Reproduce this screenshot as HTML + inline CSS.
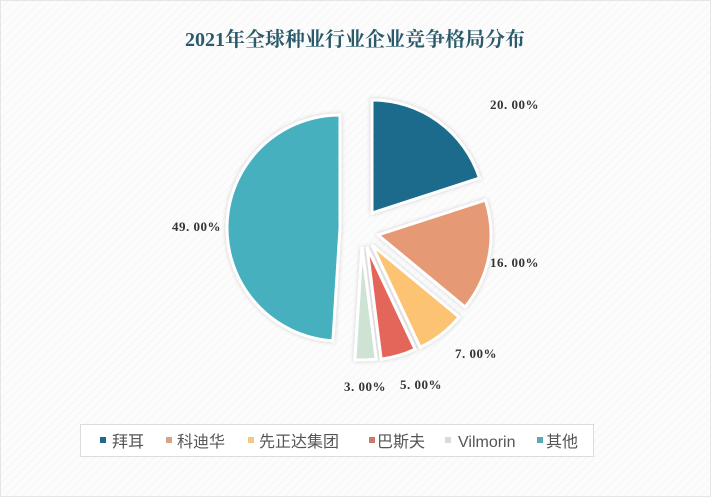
<!DOCTYPE html>
<html><head><meta charset="utf-8">
<style>
html,body{margin:0;padding:0;}
body{width:711px;height:497px;overflow:hidden;background:#fbfbfb;}
svg{display:block;}
</style></head>
<body>
<svg id="s" width="711" height="497" xmlns="http://www.w3.org/2000/svg">
<defs>
<pattern id="p" width="6" height="6" patternUnits="userSpaceOnUse" patternTransform="rotate(45)">
<rect width="6" height="6" fill="#fcfcfc"/><line x1="0" y1="0" x2="0" y2="6" stroke="#f1f1f1" stroke-width="1"/>
</pattern>
<filter id="sh" x="-20%" y="-20%" width="140%" height="140%"><feDropShadow dx="0" dy="0" stdDeviation="2" flood-color="#000" flood-opacity="0.18"/></filter>
</defs>
<rect width="711" height="497" fill="url(#p)"/>
<rect x="0.5" y="0.5" width="710" height="496" fill="none" stroke="#e6e6e6"/>
<text x="355" y="46" text-anchor="middle" font-family="Liberation Serif, 'Noto Serif CJK SC', serif" font-weight="bold" font-size="20" fill="#2b5a6b">2021年全球种业行业企业竞争格局分布</text>
<g id="pie" filter="url(#sh)"></g>
<g font-family="Liberation Serif, 'Liberation Mono', serif" font-weight="bold" font-size="13" fill="#333" letter-spacing="0.5">
<text x="490" y="109">20. 00%</text>
<text x="490" y="267">16. 00%</text>
<text x="455" y="358">7. 00%</text>
<text x="400" y="389">5. 00%</text>
<text x="344" y="391">3. 00%</text>
<text x="172" y="231">49. 00%</text>
</g>
<rect x="80.5" y="424.5" width="513" height="32" fill="#fff" stroke="#dcdcdc"/>
<g font-family="Liberation Sans, 'Noto Sans CJK SC', sans-serif" font-size="16" fill="#555">
<rect x="100" y="437" width="6" height="6" fill="#1e6a8c"/><text x="112" y="447">拜耳</text>
<rect x="166" y="437" width="6" height="6" fill="#d7a785"/><text x="177" y="447">科迪华</text>
<rect x="248" y="437" width="6" height="6" fill="#f2c98a"/><text x="259" y="447">先正达集团</text>
<rect x="369" y="437" width="6" height="6" fill="#c97a6a"/><text x="377" y="447">巴斯夫</text>
<rect x="445" y="437" width="6" height="6" fill="#d9dcd9"/><text x="458" y="447">Vilmorin</text>
<rect x="537" y="437" width="6" height="6" fill="#5aa9b3"/><text x="546" y="447">其他</text>
</g>
</svg>
<script>
var sl=[
[0,72,372,213,'#1e6a8c'],
[72,129.6,378,235,'#e59a74'],
[129.6,154.8,372,245,'#fbc372'],
[154.8,172.8,367,247,'#e4655a'],
[172.8,183.6,362,247,'#cfe3d4'],
[183.6,360,340,228,'#46b0bf']];
var r=113,g=document.getElementById('pie'),h='';
function pt(cx,cy,a){a=a*Math.PI/180;return [cx+r*Math.sin(a),cy-r*Math.cos(a)];}
sl.forEach(function(s){var p1=pt(s[2],s[3],s[0]),p2=pt(s[2],s[3],s[1]);var lg=(s[1]-s[0])>180?1:0;
h+='<path d="M'+s[2]+','+s[3]+' L'+p1[0]+','+p1[1]+' A'+r+','+r+' 0 '+lg+' 1 '+p2[0]+','+p2[1]+' Z" fill="'+s[4]+'" stroke="#fff" stroke-width="3" stroke-linejoin="miter"/>';});
g.innerHTML=h;
</script>
</body></html>
